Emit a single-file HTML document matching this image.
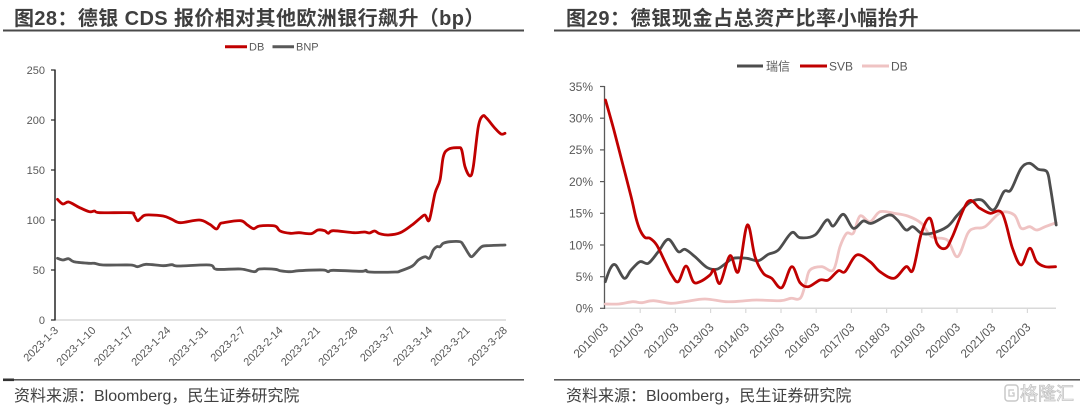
<!DOCTYPE html>
<html>
<head>
<meta charset="utf-8">
<style>
  html,body{margin:0;padding:0;background:#fff;}
  svg{display:block;}
  .t{font-family:"Liberation Sans","Noto Sans CJK SC",sans-serif;}
</style>
</head>
<body>
<svg id="chart" width="1080" height="409" viewBox="0 0 1080 409" xmlns="http://www.w3.org/2000/svg">
  <rect width="1080" height="409" fill="#fff"/>

  <!-- ===== Titles ===== -->
  <text class="t" x="14" y="25" font-size="20" font-weight="bold" fill="#3f3f3f" letter-spacing="0.4">图28：德银 CDS 报价相对其他欧洲银行飙升（bp）</text>
  <rect x="3" y="29.5" width="521" height="2" fill="#4a4a4a"/>
  <text class="t" x="566" y="25" font-size="20" font-weight="bold" fill="#3f3f3f" letter-spacing="0.6">图29：德银现金占总资产比率小幅抬升</text>
  <rect x="554" y="29.5" width="526" height="2" fill="#4a4a4a"/>

  <!-- ===== Footers ===== -->
  <rect x="3" y="379" width="521" height="1.6" fill="#595959"/>
  <rect x="3" y="378.5" width="11" height="2.6" fill="#333"/>
  <text class="t" x="14" y="401" font-size="16" fill="#404040">资料来源：Bloomberg，民生证券研究院</text>
  <rect x="554" y="379" width="526" height="1.6" fill="#595959"/>
  <text class="t" x="566" y="401" font-size="16" fill="#404040">资料来源：Bloomberg，民生证券研究院</text>

  <!-- watermark -->
  <rect x="1005" y="385" width="13" height="16" rx="3" fill="none" stroke="#c8c8c8" stroke-width="1.5"/>
  <path d="M1014 390 h-5 v6 h5 v-3 h-2" fill="none" stroke="#c8c8c8" stroke-width="1.3"/>
  <text class="t" x="1020" y="400" font-size="18" fill="#fff" stroke="#c4c4c4" stroke-width="0.8">格隆汇</text>

  <!-- ===== LEFT CHART ===== -->
  <line x1="225" y1="46.7" x2="247" y2="46.7" stroke="#c00000" stroke-width="3"/>
  <text class="t" x="249" y="50.5" font-size="11" fill="#595959">DB</text>
  <line x1="272.5" y1="46.7" x2="294" y2="46.7" stroke="#595959" stroke-width="3"/>
  <text class="t" x="296" y="50.5" font-size="11" fill="#595959">BNP</text>

  <g class="t" font-size="11" fill="#595959" text-anchor="end">
    <text x="45" y="74">250</text>
    <text x="45" y="124">200</text>
    <text x="45" y="174">150</text>
    <text x="45" y="224">100</text>
    <text x="45" y="274">50</text>
    <text x="45" y="324">0</text>
  </g>
  <line x1="55" y1="320" x2="506" y2="320" stroke="#d9d9d9" stroke-width="1.5"/>
  <line x1="55" y1="69.5" x2="55" y2="320.5" stroke="#262626" stroke-width="1.5"/>
  <g stroke="#262626" stroke-width="1.2">
    <line x1="51" y1="70" x2="55" y2="70"/>
    <line x1="51" y1="120" x2="55" y2="120"/>
    <line x1="51" y1="170" x2="55" y2="170"/>
    <line x1="51" y1="220" x2="55" y2="220"/>
    <line x1="51" y1="270" x2="55" y2="270"/>
    <line x1="51" y1="320" x2="55" y2="320"/>
  </g>

  <g class="t" font-size="11" fill="#595959" text-anchor="end">
    <text transform="translate(59,331) rotate(-45)">2023-1-3</text>
    <text transform="translate(96.4,331) rotate(-45)">2023-1-10</text>
    <text transform="translate(133.8,331) rotate(-45)">2023-1-17</text>
    <text transform="translate(171.2,331) rotate(-45)">2023-1-24</text>
    <text transform="translate(208.6,331) rotate(-45)">2023-1-31</text>
    <text transform="translate(246,331) rotate(-45)">2023-2-7</text>
    <text transform="translate(283.4,331) rotate(-45)">2023-2-14</text>
    <text transform="translate(320.8,331) rotate(-45)">2023-2-21</text>
    <text transform="translate(358.2,331) rotate(-45)">2023-2-28</text>
    <text transform="translate(395.6,331) rotate(-45)">2023-3-7</text>
    <text transform="translate(433,331) rotate(-45)">2023-3-14</text>
    <text transform="translate(470.4,331) rotate(-45)">2023-3-21</text>
    <text transform="translate(507.8,331) rotate(-45)">2023-3-28</text>
  </g>

  <polyline class="smooth" fill="none" stroke="#595959" stroke-width="2.8" stroke-linejoin="round" stroke-linecap="round"
    points="57.5,258.3 62.9,260 68.7,258.7 73.9,261.7 89.3,263.3 94.5,263.3 103.1,265 130.6,265 137.5,266.7 146,264.3 163.2,265.7 171.8,264.7 178.7,266 209.6,265 216.5,269.3 240.5,269 254.3,271.7 259.5,269 274.9,269.3 280.1,270.7 290.4,271.7 299,270.7 323,270 328.2,271.7 333.3,270.3 360.8,271.3 366,270.3 369.4,272 395.2,272 400.3,271 412.4,266 418.3,260 425,256.7 429.3,258.3 433.3,250 436.7,246.7 440,246.7 443.3,243.3 450,241.7 460,241.7 463.3,245 468.3,253.3 471.7,256.7 476.7,251.7 481.7,246.7 486.7,245.7 505,245"/>
  <polyline class="smooth" fill="none" stroke="#c00000" stroke-width="2.8" stroke-linejoin="round" stroke-linecap="round"
    points="57.5,199.3 62.9,204 68.7,202 79,207.3 89.3,211.7 94.5,211 99.7,212.7 130.6,212.7 134,215 137.5,220.7 141,218 146,215 163.2,216 171.8,219.3 180.4,222.7 199.3,220 209.6,224.3 216.5,229 220,224 223.4,222.7 240.5,220.7 247.4,225 253.6,228.7 259.5,226 274.9,226 280.1,231 290.4,233.3 299,232.7 311,233.7 317.9,230 324.7,230.7 328.2,233.3 333.3,230.7 354,232.7 364.3,232 369.4,233 374.6,231 379.7,233.7 388.3,235 400.3,232.7 412,225 420,218.3 425,215 429.3,220 435,193.3 440,180 443.3,156.7 448.3,149.3 458.3,147.7 461.7,150 465,166.7 470,176 473.3,166.7 478.3,126.7 482.7,116 486.7,118.3 495,128.3 501,134 505,133.3"/>

  <!-- ===== RIGHT CHART ===== -->
  <line x1="737" y1="66" x2="763" y2="66" stroke="#4d4d4d" stroke-width="3"/>
  <text class="t" x="766" y="70.5" font-size="12" fill="#595959">瑞信</text>
  <line x1="800" y1="66" x2="827" y2="66" stroke="#c00000" stroke-width="3"/>
  <text class="t" x="829" y="70.5" font-size="12" fill="#595959">SVB</text>
  <line x1="862" y1="66" x2="889" y2="66" stroke="#efc3c3" stroke-width="3"/>
  <text class="t" x="891" y="70.5" font-size="12" fill="#595959">DB</text>

  <g class="t" font-size="12" fill="#595959" text-anchor="end">
    <text x="593" y="90.8">35%</text>
    <text x="593" y="122.5">30%</text>
    <text x="593" y="154.2">25%</text>
    <text x="593" y="185.9">20%</text>
    <text x="593" y="217.6">15%</text>
    <text x="593" y="249.3">10%</text>
    <text x="593" y="281">5%</text>
    <text x="593" y="312.7">0%</text>
  </g>
  <line x1="604.5" y1="308.3" x2="1056" y2="308.3" stroke="#d9d9d9" stroke-width="1.5"/>
  <g stroke="#d9d9d9" stroke-width="1.2">
    <line x1="640.2" y1="308" x2="640.2" y2="313"/>
    <line x1="675.4" y1="308" x2="675.4" y2="313"/>
    <line x1="710.6" y1="308" x2="710.6" y2="313"/>
    <line x1="745.8" y1="308" x2="745.8" y2="313"/>
    <line x1="781" y1="308" x2="781" y2="313"/>
    <line x1="816.2" y1="308" x2="816.2" y2="313"/>
    <line x1="851.4" y1="308" x2="851.4" y2="313"/>
    <line x1="886.6" y1="308" x2="886.6" y2="313"/>
    <line x1="921.8" y1="308" x2="921.8" y2="313"/>
    <line x1="957" y1="308" x2="957" y2="313"/>
    <line x1="992.2" y1="308" x2="992.2" y2="313"/>
    <line x1="1027.4" y1="308" x2="1027.4" y2="313"/>
  </g>
  <line x1="604.5" y1="86" x2="604.5" y2="309" stroke="#595959" stroke-width="1.3"/>
  <g stroke="#595959" stroke-width="1.2">
    <line x1="600" y1="86.5" x2="604.5" y2="86.5"/>
    <line x1="600" y1="118.2" x2="604.5" y2="118.2"/>
    <line x1="600" y1="149.9" x2="604.5" y2="149.9"/>
    <line x1="600" y1="181.6" x2="604.5" y2="181.6"/>
    <line x1="600" y1="213.3" x2="604.5" y2="213.3"/>
    <line x1="600" y1="245" x2="604.5" y2="245"/>
    <line x1="600" y1="276.7" x2="604.5" y2="276.7"/>
    <line x1="600" y1="308.3" x2="604.5" y2="308.3"/>
  </g>

  <g class="t" font-size="12" fill="#595959" text-anchor="end">
    <text transform="translate(609,328) rotate(-45)">2010/03</text>
    <text transform="translate(644.2,328) rotate(-45)">2011/03</text>
    <text transform="translate(679.4,328) rotate(-45)">2012/03</text>
    <text transform="translate(714.6,328) rotate(-45)">2013/03</text>
    <text transform="translate(749.8,328) rotate(-45)">2014/03</text>
    <text transform="translate(785,328) rotate(-45)">2015/03</text>
    <text transform="translate(820.2,328) rotate(-45)">2016/03</text>
    <text transform="translate(855.4,328) rotate(-45)">2017/03</text>
    <text transform="translate(890.6,328) rotate(-45)">2018/03</text>
    <text transform="translate(925.8,328) rotate(-45)">2019/03</text>
    <text transform="translate(961,328) rotate(-45)">2020/03</text>
    <text transform="translate(996.2,328) rotate(-45)">2021/03</text>
    <text transform="translate(1031.4,328) rotate(-45)">2022/03</text>
  </g>

  <polyline class="smooth" fill="none" stroke="#efc3c3" stroke-width="2.8" stroke-linejoin="round" stroke-linecap="round"
    points="605.3,304 619,304 632.8,301.7 641.4,302.7 653.4,300.7 670.6,303.3 684.3,301.7 704.9,299 725.6,301.7 742.7,301 756.5,300 780.5,300.7 790.9,298.3 797.7,299.3 801.7,296 806,282 810,270 821.7,266.7 833.3,270 840,246.7 846.7,233.3 853.3,233.3 860,216 870,221.7 880,211.7 894,213.3 907.7,216 921.4,223.3 931.6,236.7 947.2,240 957.5,256.7 967.8,233.3 974.7,228.3 985,226.7 1000.5,212.7 1014.3,215 1021.1,228.3 1029.7,226.7 1036.6,230 1045.2,226.7 1056.2,222.7"/>
  <polyline class="smooth" fill="none" stroke="#4d4d4d" stroke-width="2.8" stroke-linejoin="round" stroke-linecap="round"
    points="605.3,281.7 610.4,268.3 615.6,265 624.2,278.3 631.1,270 640,261.7 648.3,263.3 658.3,251.7 668.3,239.3 678.3,251.7 685,249.3 695,256.7 706.7,267.3 716.7,269.3 725,264 733.3,258.3 746.7,258.3 758.3,260.7 768.3,254.3 778.3,250 791.7,232.7 800,237.7 815,235 826.7,220 833.3,226 843.3,214.3 853.3,228.3 863.3,221 871.7,223.3 888.8,215 897.4,220 906,230 912.9,226.7 921.4,233.3 931.6,233.3 947.2,226.7 957.5,215 969.6,202.7 981.6,200 993.5,210 1003.9,191.7 1010.8,190 1021.1,168.3 1029.7,163.3 1038.3,169.3 1046.9,171.7 1050.3,186.7 1056.2,225"/>
  <polyline class="smooth" fill="none" stroke="#c00000" stroke-width="2.8" stroke-linejoin="round" stroke-linecap="round"
    points="605.5,100 613.9,130 622.5,163.3 631.1,196.7 636,218 640,230 645,237.5 650,238.3 656.7,245 665,261.7 671.7,275 678.3,281.7 686,266 693.3,281.7 700,281.7 710,275 714,270 720,283.3 730,255.7 738.3,271.7 747.3,225 755,256.7 763.3,273.3 771.7,278.3 781.7,287.7 791.7,266.7 800,282.7 808.3,286.7 820,280 828.3,280 838.3,270.7 845,271.7 856.7,255 870,261.7 880,271.7 894,278.3 906,266.7 912.9,270 921.4,233.3 930,218.3 936.9,243.3 945.5,248.3 952.4,236.7 967.8,201.7 979.8,208.3 990.1,213.3 1002.2,213.3 1012.5,248.3 1021.1,265 1029.7,248.3 1036.6,261.7 1045.2,266.7 1055.5,266.7"/>
</svg>
<script>
(function(){
  var ns="http://www.w3.org/2000/svg";
  var pls=document.querySelectorAll("polyline.smooth");
  for(var k=0;k<pls.length;k++){
    var pl=pls[k];
    var raw=pl.getAttribute("points").trim().split(/\s+/);
    var p=[];
    for(var i=0;i<raw.length;i++){var c=raw[i].split(",");p.push([parseFloat(c[0]),parseFloat(c[1])]);}
    var d="M"+p[0][0]+","+p[0][1];
    for(var i=0;i<p.length-1;i++){
      var p0=p[i>0?i-1:i],p1=p[i],p2=p[i+1],p3=p[i+2<p.length?i+2:i+1];
      var c1x=p1[0]+(p2[0]-p0[0])/6,c1y=p1[1]+(p2[1]-p0[1])/6;
      var c2x=p2[0]-(p3[0]-p1[0])/6,c2y=p2[1]-(p3[1]-p1[1])/6;
      d+=" C"+c1x.toFixed(2)+","+c1y.toFixed(2)+" "+c2x.toFixed(2)+","+c2y.toFixed(2)+" "+p2[0]+","+p2[1];
    }
    var path=document.createElementNS(ns,"path");
    path.setAttribute("d",d);
    path.setAttribute("fill","none");
    path.setAttribute("stroke",pl.getAttribute("stroke"));
    path.setAttribute("stroke-width",pl.getAttribute("stroke-width"));
    path.setAttribute("stroke-linejoin","round");
    path.setAttribute("stroke-linecap","round");
    pl.parentNode.replaceChild(path,pl);
  }
})();
</script>
</body>
</html>
